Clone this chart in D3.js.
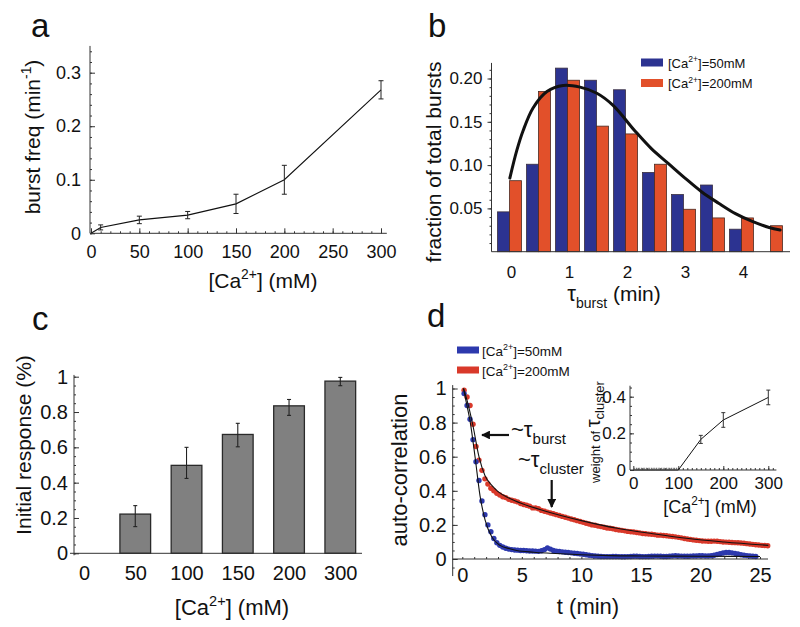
<!DOCTYPE html>
<html><head><meta charset="utf-8">
<script src="https://cdn.jsdelivr.net/npm/d3@7"></script>
<style>body{margin:0;background:#fff} svg{display:block} text{font-family:"Liberation Sans",Arial,sans-serif;fill:#111}</style>
</head><body><svg id="c" width="800" height="627"></svg>
<script>
// ---------- DATA ----------
// panel a
const aX = [0, 10, 50, 100, 150, 200, 300];
const aY = [0, 0.011, 0.025, 0.034, 0.055, 0.100, 0.268];
const aErr = [0, 0.0047, 0.007, 0.0068, 0.018, 0.027, 0.017];
const aXTicks = [0, 50, 100, 150, 200, 250, 300];
const aYTicks = [0, 0.1, 0.2, 0.3];
// panel b
const bBins = [0, 0.5, 1, 1.5, 2, 2.5, 3, 3.5, 4, 4.5];
const b50 = [0.046, 0.101, 0.212, 0.198, 0.187, 0.0915, 0.066, 0.077, 0.026, 0];
const b200 = [0.082, 0.185, 0.198, 0.145, 0.136, 0.101, 0.049, 0.039, 0.039, 0.030];
const bFitX = [-0.02, 0.1, 0.21, 0.38, 0.62, 0.9, 1.19, 1.48, 1.76, 2.13, 2.42, 2.71, 3.0, 3.29, 3.58, 3.87, 4.16, 4.45, 4.64];
const bFitY = [0.085, 0.117, 0.14, 0.166, 0.185, 0.192, 0.19, 0.183, 0.169, 0.140, 0.119, 0.102, 0.085, 0.069, 0.056, 0.044, 0.035, 0.028, 0.025];
const bXTicks = [0, 1, 2, 3, 4];
const bYTicks = [0.05, 0.10, 0.15, 0.20];
const bLegend = ["50mM", "200mM"];
// panel c
const cCats = ["0", "50", "100", "150", "200", "300"];
const cVal = [0, 0.222, 0.498, 0.673, 0.835, 0.975];
const cHi = [0, 0.270, 0.600, 0.736, 0.871, 0.996];
const cLo = [0, 0.151, 0.424, 0.603, 0.781, 0.949];
const cYTicks = [0, 0.2, 0.4, 0.6, 0.8, 1];
// panel d  (sampled every 0.25 min starting at 0.15 min)
const dT0 = 0.15, dDt = 0.25;
const dRed = [0.99,0.95,0.90,0.79,0.66,0.58,0.52,0.47,0.44,0.415,0.40,0.385,0.375,0.365,0.36,0.35,0.345,0.34,0.335,0.325,
 0.32,0.315,0.31,0.30,0.30,0.295,0.285,0.28,0.275,0.27,0.265,0.26,0.255,0.25,0.245,0.24,0.235,0.23,0.225,0.22,
 0.215,0.21,0.205,0.20,0.198,0.193,0.19,0.186,0.182,0.18,0.177,0.173,0.17,0.168,0.165,0.162,0.16,0.158,0.155,0.153,
 0.15,0.148,0.146,0.145,0.143,0.14,0.14,0.138,0.136,0.134,0.132,0.13,0.127,0.124,0.12,0.117,0.115,0.112,0.11,0.108,
 0.106,0.105,0.104,0.104,0.105,0.104,0.102,0.10,0.099,0.098,0.097,0.096,0.095,0.094,0.092,0.09,0.088,0.086,0.084,0.082,
 0.08,0.079,0.078];
const dBlue = [0.97,0.90,0.82,0.70,0.57,0.46,0.34,0.26,0.20,0.16,0.12,0.095,0.08,0.07,0.063,0.058,0.055,0.053,0.052,0.05,
 0.05,0.048,0.047,0.047,0.046,0.045,0.048,0.055,0.065,0.058,0.05,0.046,0.044,0.042,0.04,0.038,0.036,0.034,0.032,0.03,
 0.028,0.025,0.022,0.02,0.018,0.016,0.015,0.014,0.014,0.014,0.015,0.015,0.014,0.013,0.013,0.014,0.015,0.016,0.016,0.015,
 0.014,0.014,0.015,0.016,0.017,0.017,0.016,0.015,0.015,0.016,0.018,0.019,0.018,0.017,0.016,0.016,0.017,0.018,0.018,0.019,
 0.019,0.018,0.018,0.019,0.022,0.026,0.031,0.035,0.038,0.038,0.036,0.033,0.029,0.025,0.022,0.02,0.018,0.016,0.015];
const dFitBlueT = [0.1,0.3,0.65,1.07,1.49,1.91,2.47,3.17,4.0,4.57,6,7.37,10,12.4,15,20,25];
const dFitBlueY = [1.0,0.93,0.81,0.6,0.37,0.23,0.13,0.08,0.06,0.05,0.04,0.034,0.025,0.02,0.018,0.016,0.015];
const dFitRedT = [0.1,0.4,0.9,1.4,1.9,2.5,3,4,5,7,10,13,16,19,22,25.7];
const dFitRedY = [1.0,0.93,0.78,0.6,0.49,0.43,0.395,0.355,0.325,0.28,0.225,0.18,0.148,0.12,0.10,0.08];
const dXTicks = [0, 5, 10, 15, 20, 25];
const dYTicks = [0, 0.2, 0.4, 0.6, 0.8, 1];
// inset
const iX = [0, 50, 100, 150, 200, 300];
const iY = [0, 0, 0, 0.167, 0.273, 0.396];
const iErr = [0, 0, 0, 0.022, 0.04, 0.04];
const iXTicks = [0, 100, 200, 300];
const iYTicks = [0, 0.2, 0.4];

// ---------- HELPERS ----------
const svg = d3.select("#c");
svg.append("rect").attr("width", 800).attr("height", 627).attr("fill", "#fff");
const AX = "#333";

function rich(parent, x, y, parts, size, anchor) {
  const t = parent.append("text").attr("x", x).attr("y", y).attr("font-size", size)
    .attr("text-anchor", anchor || "start");
  let shift = 0;
  parts.forEach(p => {
    const target = p.sup ? -0.42 * size : p.sub ? 0.32 * size : 0;
    const fs = p.size || ((p.sup || p.sub) ? size * 0.66 : size);
    t.append("tspan").attr("dy", target - shift).attr("font-size", fs).text(p.t);
    shift = target;
  });
  return t;
}
function rotated(parent, x, y, parts, size) {
  const g = parent.append("g").attr("transform", `translate(${x},${y}) rotate(-90)`);
  return rich(g, 0, 0, parts, size, "middle");
}
function styleAxis(g, fs) {
  g.select(".domain").remove();
  g.selectAll("line").attr("stroke", AX);
  g.selectAll("text").attr("font-size", fs).style("font-family", '"Liberation Sans",Arial,sans-serif').attr("fill", "#111");
}
function vline(x, y1, y2, w) { svg.append("line").attr("x1", x).attr("x2", x).attr("y1", y1).attr("y2", y2).attr("stroke", AX).attr("stroke-width", w || 1); }
function hline(y, x1, x2, w) { svg.append("line").attr("x1", x1).attr("x2", x2).attr("y1", y).attr("y2", y).attr("stroke", AX).attr("stroke-width", w || 1); }
function errbar(g, x, y1, y2, cap, color, w) {
  g.append("line").attr("x1", x).attr("x2", x).attr("y1", y1).attr("y2", y2).attr("stroke", color).attr("stroke-width", w || 1);
  g.append("line").attr("x1", x - cap).attr("x2", x + cap).attr("y1", y1).attr("y2", y1).attr("stroke", color).attr("stroke-width", w || 1);
  g.append("line").attr("x1", x - cap).attr("x2", x + cap).attr("y1", y2).attr("y2", y2).attr("stroke", color).attr("stroke-width", w || 1);
}
const letter = (x, y, s) => svg.append("text").attr("x", x).attr("y", y).attr("font-size", 33).text(s);

// ---------- PANEL A ----------
{
  const x = d3.scaleLinear().domain([0, 300]).range([91, 381]);
  const y = d3.scaleLinear().domain([0, 0.3]).range([233.3, 72.7]);
  const g = svg.append("g");
  vline(90, y(0), y(0.35)); hline(y(0), 90, x(306));
  g.append("g").attr("transform", `translate(90,0)`).call(d3.axisLeft(y).tickValues(d3.range(0, 0.35, 0.02)).tickSize(-2).tickFormat("")).call(a => styleAxis(a, 0));
  g.append("g").attr("transform", `translate(90,0)`).call(d3.axisLeft(y).tickValues(aYTicks).tickSize(-5).tickPadding(9).tickFormat(d => d === 0 ? "0" : d3.format(".1f")(d))).call(a => styleAxis(a, 18));
  g.append("g").attr("transform", `translate(0,${y(0)})`).call(d3.axisBottom(x).tickValues(d3.range(0, 306, 10)).tickSize(-2).tickFormat("")).call(a => styleAxis(a, 0));
  g.append("g").attr("transform", `translate(0,${y(0)})`).call(d3.axisBottom(x).tickValues(aXTicks).tickSize(-5).tickPadding(12).tickFormat(d3.format("d"))).call(a => styleAxis(a, 18));
  g.append("path").datum(aX.map((v, i) => [v, aY[i]])).attr("fill", "none").attr("stroke", "#111").attr("stroke-width", 1.1)
    .attr("d", d3.line().x(d => x(d[0])).y(d => y(d[1])));
  aX.forEach((v, i) => { if (aErr[i] > 0) errbar(g, x(v), y(aY[i] + aErr[i]), y(aY[i] - aErr[i]), 2.5, "#222", 1); });
  rotated(svg, 40, 137, [{ t: "burst freq (min" }, { t: "-1", sup: true }, { t: ")" }], 21);
  rich(svg, 263, 288, [{ t: "[Ca" }, { t: "2+", sup: true }, { t: "] (mM)" }], 21, "middle");
  letter(31, 37, "a");
}

// ---------- PANEL B ----------
{
  const x = d3.scaleLinear().domain([0, 4]).range([511, 743]);
  const y = d3.scaleLinear().domain([0, 0.05]).range([251.7, 208.4]);
  const g = svg.append("g");
  const blue = "#2c3391", red = "#e2502a";
  const bw = 12;
  bBins.forEach((c, i) => {
    const bx = x(c) - 1.5;
    if (b50[i] > 0) g.append("rect").attr("x", bx - bw).attr("y", y(b50[i])).attr("width", bw).attr("height", y(0) - y(b50[i])).attr("fill", blue).attr("stroke", "#3a2f40").attr("stroke-width", 0.8);
    g.append("rect").attr("x", bx).attr("y", y(b200[i])).attr("width", bw).attr("height", y(0) - y(b200[i])).attr("fill", red).attr("stroke", "#4a2a22").attr("stroke-width", 0.8);
  });
  g.append("path").datum(bFitX.map((v, i) => [v, bFitY[i]])).attr("fill", "none").attr("stroke", "#111").attr("stroke-width", 3).attr("stroke-linecap", "round")
    .attr("d", d3.line().x(d => x(d[0])).y(d => y(d[1])).curve(d3.curveCatmullRom));
  vline(491.5, y(0), y(0.218)); hline(y(0), 491.5, 790);
  g.append("g").attr("transform", `translate(491.5,0)`).call(d3.axisLeft(y).tickValues(d3.range(0.01, 0.215, 0.01)).tickSize(2).tickFormat("")).call(a => styleAxis(a, 0));
  g.append("g").attr("transform", `translate(491.5,0)`).call(d3.axisLeft(y).tickValues(bYTicks).tickSize(4).tickPadding(5).tickFormat(d3.format(".2f"))).call(a => styleAxis(a, 17));
  g.append("g").attr("transform", `translate(0,${y(0)})`).call(d3.axisBottom(x).tickValues(bXTicks).tickSize(0).tickPadding(14).tickFormat(d3.format("d"))).call(a => styleAxis(a, 17));
  // legend
  [blue, red].forEach((col, i) => {
    svg.append("rect").attr("x", 641).attr("y", 58.5 + i * 20.5).attr("width", 22).attr("height", 8).attr("fill", col);
    rich(svg, 668, 67.5 + i * 20.5, [{ t: "[Ca" }, { t: "2+", sup: true }, { t: "]=" + bLegend[i] }], 13);
  });
  rotated(svg, 441, 162, [{ t: "fraction of total bursts" }], 21);
  rich(svg, 614, 301, [{ t: "τ", size: 22 }, { t: "burst", sub: true, size: 14 }, { t: " (min)" }], 21, "middle");
  letter(428, 37, "b");
}

// ---------- PANEL C ----------
{
  const x = d3.scalePoint().domain(cCats).range([84, 340.3]);
  const y = d3.scaleLinear().domain([0, 1]).range([553.3, 376.7]);
  const g = svg.append("g");
  const bw = 30.7;
  cCats.forEach((c, i) => {
    if (cVal[i] <= 0) return;
    g.append("rect").attr("x", x(c) - bw / 2).attr("y", y(cVal[i])).attr("width", bw).attr("height", y(0) - y(cVal[i]))
      .attr("fill", "#808080").attr("stroke", "#2a2a2a").attr("stroke-width", 1.3);
    errbar(g, x(c), y(cHi[i]), y(cLo[i]), 2, "#222", 1.1);
  });
  vline(74, y(0) + 2, y(1.01)); hline(y(0), 70, 362);
  g.append("g").attr("transform", `translate(74,0)`).call(d3.axisLeft(y).tickValues(d3.range(0, 1.01, 0.05)).tickSize(-2).tickFormat("")).call(a => styleAxis(a, 0));
  g.append("g").attr("transform", `translate(74,0)`).call(d3.axisLeft(y).tickValues(cYTicks).tickSize(-5).tickPadding(6).tickFormat(d => (d === 0 || d === 1) ? d : d3.format(".1f")(d))).call(a => styleAxis(a, 20));
  g.append("g").attr("transform", `translate(0,${y(0)})`).call(d3.axisBottom(x).tickSize(0).tickPadding(13)).call(a => styleAxis(a, 20));
  rotated(svg, 31, 445, [{ t: "Initial response (%)" }], 21);
  rich(svg, 232, 615, [{ t: "[Ca" }, { t: "2+", sup: true }, { t: "] (mM)" }], 22, "middle");
  letter(32, 330, "c");
}

// ---------- PANEL D ----------
{
  const x = d3.scaleLinear().domain([0, 25]).range([462.3, 760]);
  const y = d3.scaleLinear().domain([0, 1]).range([559, 388.5]);
  const g = svg.append("g");
  const blueD = "#2d39ad", redD = "#d9392a";
  vline(452.7, y(-0.1), y(1.02)); hline(y(0), 452.7, 768);
  g.append("g").attr("transform", `translate(452.7,0)`).call(d3.axisLeft(y).tickValues(d3.range(-0.05, 1.01, 0.05)).tickSize(-2).tickFormat("")).call(a => styleAxis(a, 0));
  g.append("g").attr("transform", `translate(452.7,0)`).call(d3.axisLeft(y).tickValues(dYTicks).tickSize(-5).tickPadding(6).tickFormat(d => (d === 0 || d === 1) ? d : d3.format(".1f")(d))).call(a => styleAxis(a, 20));
  g.append("g").attr("transform", `translate(0,${y(0)})`).call(d3.axisBottom(x).tickValues(d3.range(0, 26, 1)).tickSize(-2).tickFormat("")).call(a => styleAxis(a, 0));
  g.append("g").attr("transform", `translate(0,${y(0)})`).call(d3.axisBottom(x).tickValues(dXTicks).tickSize(0).tickPadding(9).tickFormat(d3.format("d"))).call(a => styleAxis(a, 20));
  const dots = (arr, col) => g.append("g").selectAll("circle").data(arr).join("circle")
    .attr("cx", (v, i) => x(dT0 + i * dDt)).attr("cy", v => y(v)).attr("r", 2.7).attr("fill", col);
  dots(dRed, redD);
  dots(dBlue, blueD);
  const ln = d3.line().x(d => x(d[0])).y(d => y(d[1])).curve(d3.curveMonotoneX);
  g.append("path").datum(dFitRedT.map((v, i) => [v, dFitRedY[i]])).attr("fill", "none").attr("stroke", "#111").attr("stroke-width", 1.1).attr("d", ln);
  g.append("path").datum(dFitBlueT.map((v, i) => [v, dFitBlueY[i]])).attr("fill", "none").attr("stroke", "#111").attr("stroke-width", 1.1).attr("d", ln);
  // legend
  [blueD, redD].forEach((col, i) => {
    svg.append("rect").attr("x", 457).attr("y", 346.5 + i * 20).attr("width", 22).attr("height", 7).attr("fill", col);
    rich(svg, 482, 355.5 + i * 20, [{ t: "[Ca" }, { t: "2+", sup: true }, { t: "]=" + bLegend[i] }], 13.5);
  });
  // annotations
  const defs = svg.append("defs");
  defs.append("marker").attr("id", "ah").attr("viewBox", "0 0 10 10").attr("refX", 9).attr("refY", 5)
    .attr("markerWidth", 4).attr("markerHeight", 4).attr("orient", "auto")
    .append("path").attr("d", "M0,0 L10,5 L0,10 z").attr("fill", "#111");
  svg.append("line").attr("x1", 509).attr("y1", 435).attr("x2", 482).attr("y2", 435).attr("stroke", "#111").attr("stroke-width", 2.2).attr("marker-end", "url(#ah)");
  svg.append("line").attr("x1", 551.7).attr("y1", 480).attr("x2", 551.7).attr("y2", 507).attr("stroke", "#111").attr("stroke-width", 2.2).attr("marker-end", "url(#ah)");
  rich(svg, 511, 437, [{ t: "~τ", size: 22 }, { t: "burst", sub: true, size: 15 }], 22);
  rich(svg, 518, 467, [{ t: "~τ", size: 22 }, { t: "cluster", sub: true, size: 15 }], 22);
  rotated(svg, 407, 470, [{ t: "auto-correlation" }], 22);
  rich(svg, 588, 614, [{ t: "t (min)" }], 22, "middle");
  letter(427, 327, "d");

  // inset
  const xi = d3.scaleLinear().domain([0, 300]).range([633.3, 768.3]);
  const yi = d3.scaleLinear().domain([0, 0.4]).range([470, 396.7]);
  const gi = svg.append("g");
  vline(630, yi(0), yi(0.46)); hline(yi(0), 630, xi(318));
  gi.append("g").attr("transform", `translate(630,0)`).call(d3.axisLeft(yi).tickValues(d3.range(0, 0.46, 0.05)).tickSize(-2).tickFormat("")).call(a => styleAxis(a, 0));
  gi.append("g").attr("transform", `translate(630,0)`).call(d3.axisLeft(yi).tickValues(iYTicks).tickSize(-4).tickPadding(4).tickFormat(d => d === 0 ? "0" : d3.format(".1f")(d))).call(a => styleAxis(a, 17));
  gi.append("g").attr("transform", `translate(0,${yi(0)})`).call(d3.axisBottom(xi).tickValues(d3.range(0, 316, 10)).tickSize(-2).tickFormat("")).call(a => styleAxis(a, 0));
  gi.append("g").attr("transform", `translate(0,${yi(0)})`).call(d3.axisBottom(xi).tickValues(iXTicks).tickSize(-4).tickPadding(7).tickFormat(d3.format("d"))).call(a => styleAxis(a, 17));
  gi.append("path").datum(iX.map((v, i) => [v, iY[i]])).attr("fill", "none").attr("stroke", "#111").attr("stroke-width", 1)
    .attr("d", d3.line().x(d => xi(d[0])).y(d => yi(d[1])));
  gi.append("line").attr("x1", xi(0)).attr("x2", xi(100)).attr("y1", yi(0) - 1).attr("y2", yi(0) - 1).attr("stroke", "#777").attr("stroke-width", 2.5).attr("stroke-dasharray", "1.5,1");
  iX.forEach((v, i) => { if (iErr[i] > 0) errbar(gi, xi(v), yi(iY[i] + iErr[i]), yi(iY[i] - iErr[i]), 2, "#333", 1); });
  rotated(svg, 600, 432, [{ t: "weight of ", size: 13 }, { t: "τ", size: 20 }, { t: "cluster", sub: true, size: 13 }], 13);
  rich(svg, 710, 513, [{ t: "[Ca" }, { t: "2+", sup: true }, { t: "] (mM)" }], 18, "middle");
}
</script></body></html>
